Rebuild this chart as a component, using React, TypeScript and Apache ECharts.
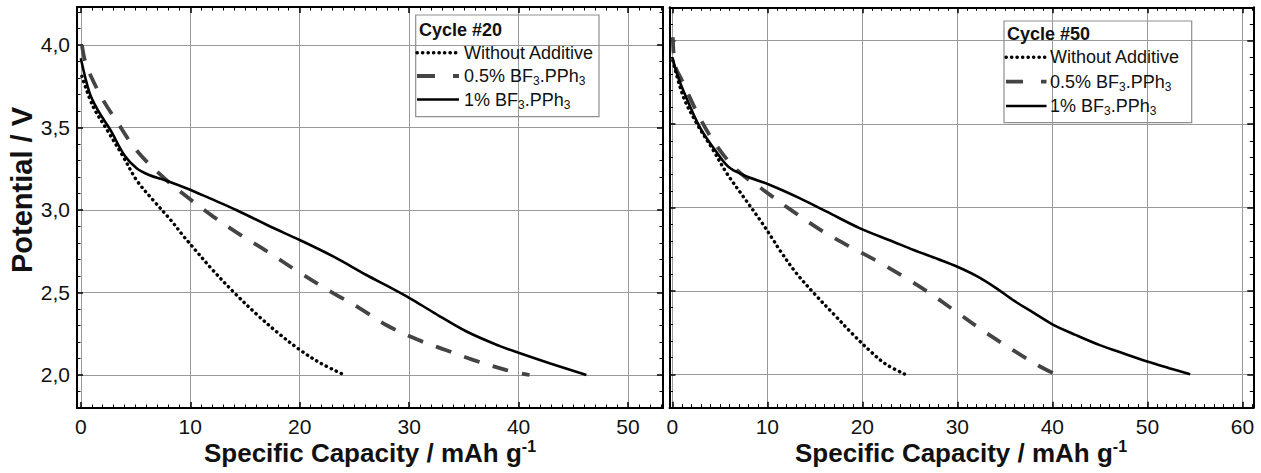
import React, { useEffect, useRef } from "react";
import * as echarts from "echarts";

// ---- Data (Specific capacity [mAh/g], Potential [V]) ----
const cycle20Without: number[][] = [
  [0.1, 3.81], [1.1, 3.63], [2.4, 3.485], [3.9, 3.32], [5.1, 3.18], [6.6, 3.06],
  [8.2, 2.94], [9.4, 2.84], [10.3, 2.77], [12, 2.64], [14, 2.5], [16, 2.372],
  [18, 2.256], [20, 2.153], [21.9, 2.072], [24.1, 2.0],
];
const cycle20Half: number[][] = [
  [0.1, 4.0], [0.4, 3.9], [1.0, 3.8], [2.0, 3.67], [3.3, 3.535], [5.1, 3.36],
  [7.5, 3.2], [9.7, 3.08], [12.1, 2.96], [14.8, 2.84], [17.0, 2.75], [20.0, 2.62],
  [23.1, 2.495], [25.5, 2.404], [27.9, 2.303], [30.7, 2.216], [33.4, 2.15],
  [35.9, 2.09], [38.9, 2.03], [41.0, 2.0],
];
const cycle20One: number[][] = [
  [0, 3.92], [0.8, 3.71], [1.6, 3.6], [2.7, 3.485], [4.0, 3.33], [5.1, 3.253],
  [6.3, 3.21], [7.7, 3.18], [9.7, 3.13], [11.8, 3.07], [14.2, 3.0], [17.3, 2.9],
  [20.0, 2.818], [23.1, 2.717], [26.1, 2.606], [28.0, 2.54], [30.0, 2.468],
  [32.2, 2.38], [35.2, 2.265], [38.3, 2.175], [40.0, 2.135], [42.9, 2.07], [46.2, 2.0],
];
const cycle50Without: number[][] = [
  [0.05, 3.88], [1.16, 3.663], [2.57, 3.504], [4.3, 3.344], [5.73, 3.205],
  [7.47, 3.065], [9.23, 2.925], [10.63, 2.805], [11.3, 2.745], [13, 2.61],
  [15, 2.48], [17, 2.36], [19, 2.24], [21, 2.13], [22.5, 2.06], [24.5, 2.0],
];
const cycle50Half: number[][] = [
  [0.05, 4.02], [0.3, 3.85], [1.0, 3.763], [2.74, 3.554], [4.5, 3.384],
  [6.78, 3.225], [9.58, 3.105], [12.74, 2.975], [15.9, 2.855], [18.7, 2.765],
  [21.5, 2.68], [24.5, 2.58], [27, 2.49], [30, 2.37], [33, 2.25], [36, 2.14],
  [38.7, 2.047], [40.1, 2.007],
];
const cycle50One: number[][] = [
  [0, 3.9], [0.5, 3.8], [1.16, 3.7], [2.9, 3.48], [4.5, 3.344], [5.9, 3.244],
  [7.47, 3.195], [10.28, 3.135], [13.44, 3.055], [16.25, 2.975], [19.76, 2.875],
  [23.26, 2.795], [25.4, 2.745], [28, 2.69], [30, 2.645], [32, 2.59], [34, 2.52],
  [36, 2.44], [38, 2.37], [40, 2.3], [42.5, 2.235], [45, 2.175], [47.5, 2.125],
  [50, 2.077], [52.3, 2.037], [54.5, 2.0],
];

const panelTitles = ["Cycle #20", "Cycle #50"];
const legendRich = [
  "{t|Without Additive}",
  "{t|0.5% BF}{s|3}{t|.PPh}{s|3}",
  "{t|1% BF}{s|3}{t|.PPh}{s|3}",
];
const xTitle = "{t|Specific Capacity / mAh g}{p|-1}";
const yTitle = "Potential / V";

const FONT = "'Liberation Sans', Arial, Helvetica, sans-serif";

const dotStyle = { color: "#000", width: 3.4, type: [0.3, 5.2] as number[], cap: "round" as const };
const dashStyle = { color: "#444", width: 3.8, type: [16, 14] as number[], cap: "butt" as const };
const solidStyle = { color: "#000", width: 2.6, type: "solid" as const };

function xFmt(v: number) {
  const r = Math.round(v / 10) * 10;
  return Math.abs(v - r) < 1e-6 ? String(r) : "";
}
function yFmt(v: number) {
  const r = Math.round(v * 2) / 2;
  return Math.abs(v - r) < 1e-6 ? r.toFixed(1).replace(".", ",") : "";
}

function makeX(gridIndex: number, min: number, max: number, position: string, main: boolean) {
  return {
    type: "value", gridIndex, min, max, position,
    axisLine: { show: true, onZero: false, lineStyle: { color: "#000", width: 2 } },
    axisTick: { show: true, inside: true, length: 6, lineStyle: { color: "#000", width: 1.5 } },
    minorTick: { show: true, splitNumber: 10, length: 3.5, lineStyle: { color: "#000", width: 1 } },
    axisLabel: { show: main, formatter: xFmt, fontSize: 21, color: "#111", margin: 8, fontFamily: FONT },
    splitLine: { show: main, lineStyle: { color: "#9a9a9a", width: 1 } },
  };
}
function makeY(gridIndex: number, min: number, max: number, position: string, main: boolean, labels: boolean) {
  return {
    type: "value", gridIndex, min, max, position,
    axisLine: { show: true, onZero: false, lineStyle: { color: "#000", width: 2 } },
    axisTick: { show: true, inside: true, length: 6, lineStyle: { color: "#000", width: 1.5 } },
    minorTick: { show: true, splitNumber: 5, length: 3.5, lineStyle: { color: "#000", width: 1 } },
    axisLabel: { show: labels, formatter: yFmt, fontSize: 21, color: "#111", margin: 7, fontFamily: FONT },
    splitLine: { show: main, lineStyle: { color: "#9a9a9a", width: 1 } },
  };
}

function legendGroup(box: number[], titlePos: number[], rowsY: number[], lx1: number, lx2: number, tx: number, dash: number[], title: string) {
  const els: any[] = [];
  els.push({ type: "rect", z: 100, shape: { x: box[0], y: box[1], width: box[2], height: box[3] },
    style: { fill: "none", stroke: "#8f8f8f", lineWidth: 1.2 } });
  els.push({ type: "text", z: 101, x: titlePos[0], y: titlePos[1],
    style: { text: title, font: `bold 18px ${FONT}`, fill: "#111", align: "left", verticalAlign: "middle" } });
  const lineStyles = [
    { stroke: "#000", lineWidth: 3.4, lineDash: [0.3, 5.2], lineCap: "round" },
    { stroke: "#444", lineWidth: 3.8, lineDash: dash, lineCap: "butt" },
    { stroke: "#000", lineWidth: 2.6 },
  ];
  rowsY.forEach((y, i) => {
    els.push({ type: "line", z: 101, shape: { x1: lx1, y1: y, x2: lx2, y2: y }, style: lineStyles[i] });
    els.push({ type: "text", z: 101, x: tx, y,
      style: {
        text: legendRich[i], align: "left", verticalAlign: "middle", fill: "#111",
        rich: {
          t: { fontSize: 18, lineHeight: 22, fontFamily: FONT, fill: "#111" },
          s: { fontSize: 12, lineHeight: 12, fontFamily: FONT, verticalAlign: "bottom", fill: "#111" },
        },
      } });
  });
  return els;
}

export default function App() {
  const ref = useRef<HTMLDivElement>(null);
  useEffect(() => {
    const chart = echarts.init(ref.current!, null, { renderer: "svg" });
    const L = { min: -0.35, max: 53.2, ymin: 1.8, ymax: 4.23 };
    const R = { min: -0.3, max: 61.15, ymin: 1.8, ymax: 4.2 };
    const option: any = {
      animation: false,
      backgroundColor: "#fff",
      grid: [
        { left: 77, top: 7, width: 586, height: 401 },
        { left: 669.5, top: 7.3, width: 583.8, height: 400.4 },
      ],
      xAxis: [
        makeX(0, L.min, L.max, "bottom", true),
        makeX(0, L.min, L.max, "top", false),
        makeX(1, R.min, R.max, "bottom", true),
        makeX(1, R.min, R.max, "top", false),
      ],
      yAxis: [
        makeY(0, L.ymin, L.ymax, "left", true, true),
        makeY(0, L.ymin, L.ymax, "right", false, false),
        makeY(1, R.ymin, R.ymax, "left", true, false),
        makeY(1, R.ymin, R.ymax, "right", false, false),
      ],
      series: [
        { name: "Without Additive", type: "line", xAxisIndex: 0, yAxisIndex: 0, data: cycle20Without, lineStyle: dotStyle },
        { name: "0.5% BF3.PPh3", type: "line", xAxisIndex: 0, yAxisIndex: 0, data: cycle20Half, lineStyle: dashStyle },
        { name: "1% BF3.PPh3", type: "line", xAxisIndex: 0, yAxisIndex: 0, data: cycle20One, lineStyle: solidStyle },
        { name: "Without Additive", type: "line", xAxisIndex: 2, yAxisIndex: 2, data: cycle50Without, lineStyle: dotStyle },
        { name: "0.5% BF3.PPh3", type: "line", xAxisIndex: 2, yAxisIndex: 2, data: cycle50Half, lineStyle: dashStyle },
        { name: "1% BF3.PPh3", type: "line", xAxisIndex: 2, yAxisIndex: 2, data: cycle50One, lineStyle: solidStyle },
      ].map((s) => ({ ...s, symbol: "none", showSymbol: false, smooth: 0.35, silent: true, z: 3 })),
      graphic: [
        ...legendGroup([415.7, 15, 183.3, 101.7], [419, 30], [52.7, 76, 99.5], 417, 459, 464, [18, 18], panelTitles[0]),
        ...legendGroup([1004, 21, 187.7, 101.7], [1007, 34.3], [57.3, 81.7, 106], 1006, 1046.5, 1050, [17, 18], panelTitles[1]),
        { type: "text", z: 101, x: 22, y: 190, rotation: Math.PI / 2,
          style: { text: yTitle, font: `bold 29px ${FONT}`, fill: "#111", align: "center", verticalAlign: "middle" } },
        ...[370, 961].map((cx) => ({
          type: "text", z: 101, x: cx, y: 453,
          style: {
            text: xTitle, align: "center", verticalAlign: "middle", fill: "#111",
            rich: {
              t: { fontSize: 26, fontWeight: "bold", lineHeight: 30, fontFamily: FONT, fill: "#111" },
              p: { fontSize: 16, fontWeight: "bold", lineHeight: 16, fontFamily: FONT, verticalAlign: "top", fill: "#111" },
            },
          },
        })),
      ],
    };
    chart.setOption(option);
    return () => chart.dispose();
  }, []);
  return (
    <div
      ref={ref}
      style={{ position: "absolute", left: 0, top: 0, width: 1261, height: 473, background: "#fff" }}
    />
  );
}
